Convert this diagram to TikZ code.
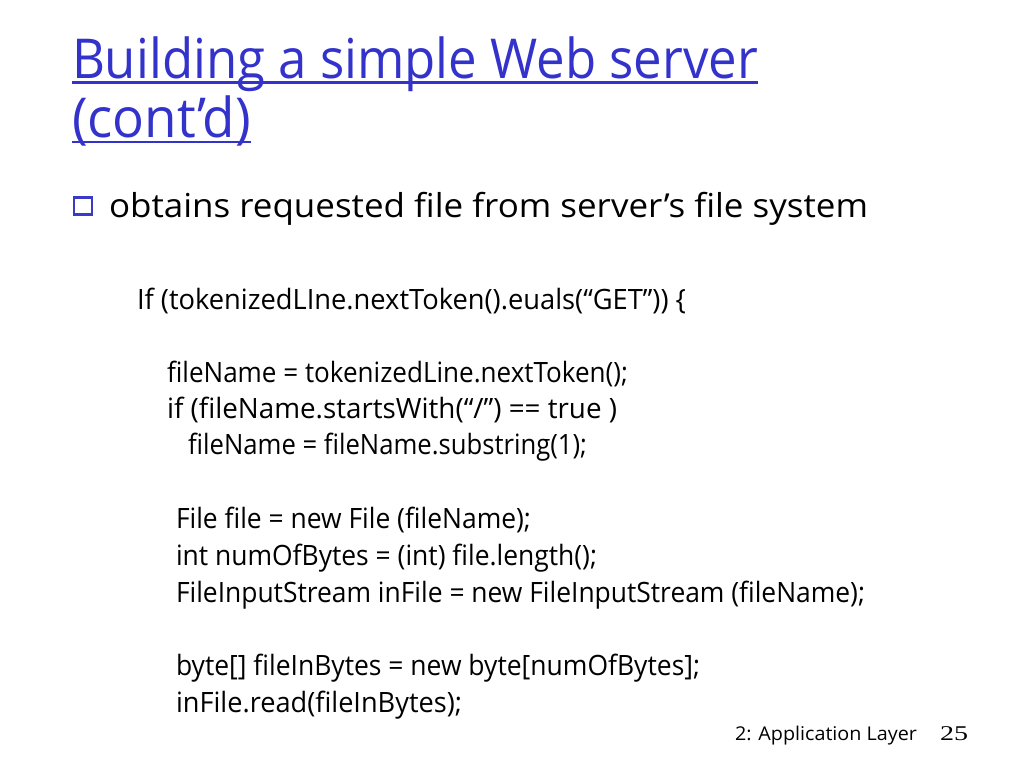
\documentclass[tikz,border=0pt]{standalone}
\usepackage{fontspec}
\usepackage{graphicx}
\setmainfont[Ligatures={TeX,NoCommon}]{Open Sans}
\newfontfamily\numfont{Liberation Serif}
\definecolor{titleblue}{HTML}{3333CC}
\definecolor{boxblue}{HTML}{3A3AC8}
\newcommand\fitw[2]{\resizebox{#1pt}{\height}{#2}}
\begin{document}
\begin{tikzpicture}[x=1pt,y=-1pt,
  txt/.style={anchor=base west,inner sep=0pt,outer sep=0pt},
  title/.style={txt,text=titleblue,font=\fontsize{55}{60}\selectfont},
  bul/.style={txt,font=\fontsize{33}{38}\selectfont},
  code/.style={txt,font=\fontsize{28}{32}\selectfont},
  foot/.style={txt,font=\fontsize{19}{22}\selectfont},
  uline/.style={draw=titleblue,line width=2.5pt}]
\useasboundingbox[fill=white] (0,0) rectangle (1024,768);
% title
\node[title] (t1) at (72,78) {\fitw{686}{Building a simple Web server}};
\node[title] (t2) at (72,137) {\fitw{179}{(cont’d)}};
\draw[uline] ([yshift=-4.5pt]t1.base west) -- ([yshift=-4.5pt]t1.base east);
\draw[uline] ([yshift=-5pt]t2.base west) -- ([yshift=-5pt]t2.base east);
% bullet
\node[draw=boxblue,line width=2.6pt,fill=white,minimum width=18pt,minimum height=16.5pt,inner sep=0pt] (sq) at (83,206) {};
\node[bul] (b1) at (109,217) {\fitw{759}{obtains requested file from server’s file system}};
% code
\node[code] (c1) at (137,309) {\fitw{549}{If (tokenizedLIne.nextToken().euals(“GET”)) \{}};
\node[code] (c2) at (167,382) {\fitw{461}{fileName = tokenizedLine.nextToken();}};
\node[code] (c3) at (167,418) {\fitw{450}{if (fileName.startsWith(“/”) == true )}};
\node[code] (c4) at (188,454) {\fitw{399}{fileName = fileName.substring(1);}};
\node[code] (c5) at (176,528) {\fitw{355}{File file = new File (fileName);}};
\node[code] (c6) at (176,565) {\fitw{421}{int numOfBytes = (int) file.length();}};
\node[code] (c7) at (176,602) {\fitw{689}{FileInputStream inFile = new FileInputStream (fileName);}};
\node[code] (c8) at (176,675) {\fitw{524}{byte[] fileInBytes = new byte[numOfBytes];}};
\node[code] (c9) at (176,712) {\fitw{286}{inFile.read(fileInBytes);}};
% footer
\node[foot] (f1) at (735,740) {\fitw{182}{2: Application Layer}};
\node[foot,font=\numfont\fontsize{21}{24}\selectfont] (f2) at (940,740) {\fitw{28}{25}};
\end{tikzpicture}
\end{document}
